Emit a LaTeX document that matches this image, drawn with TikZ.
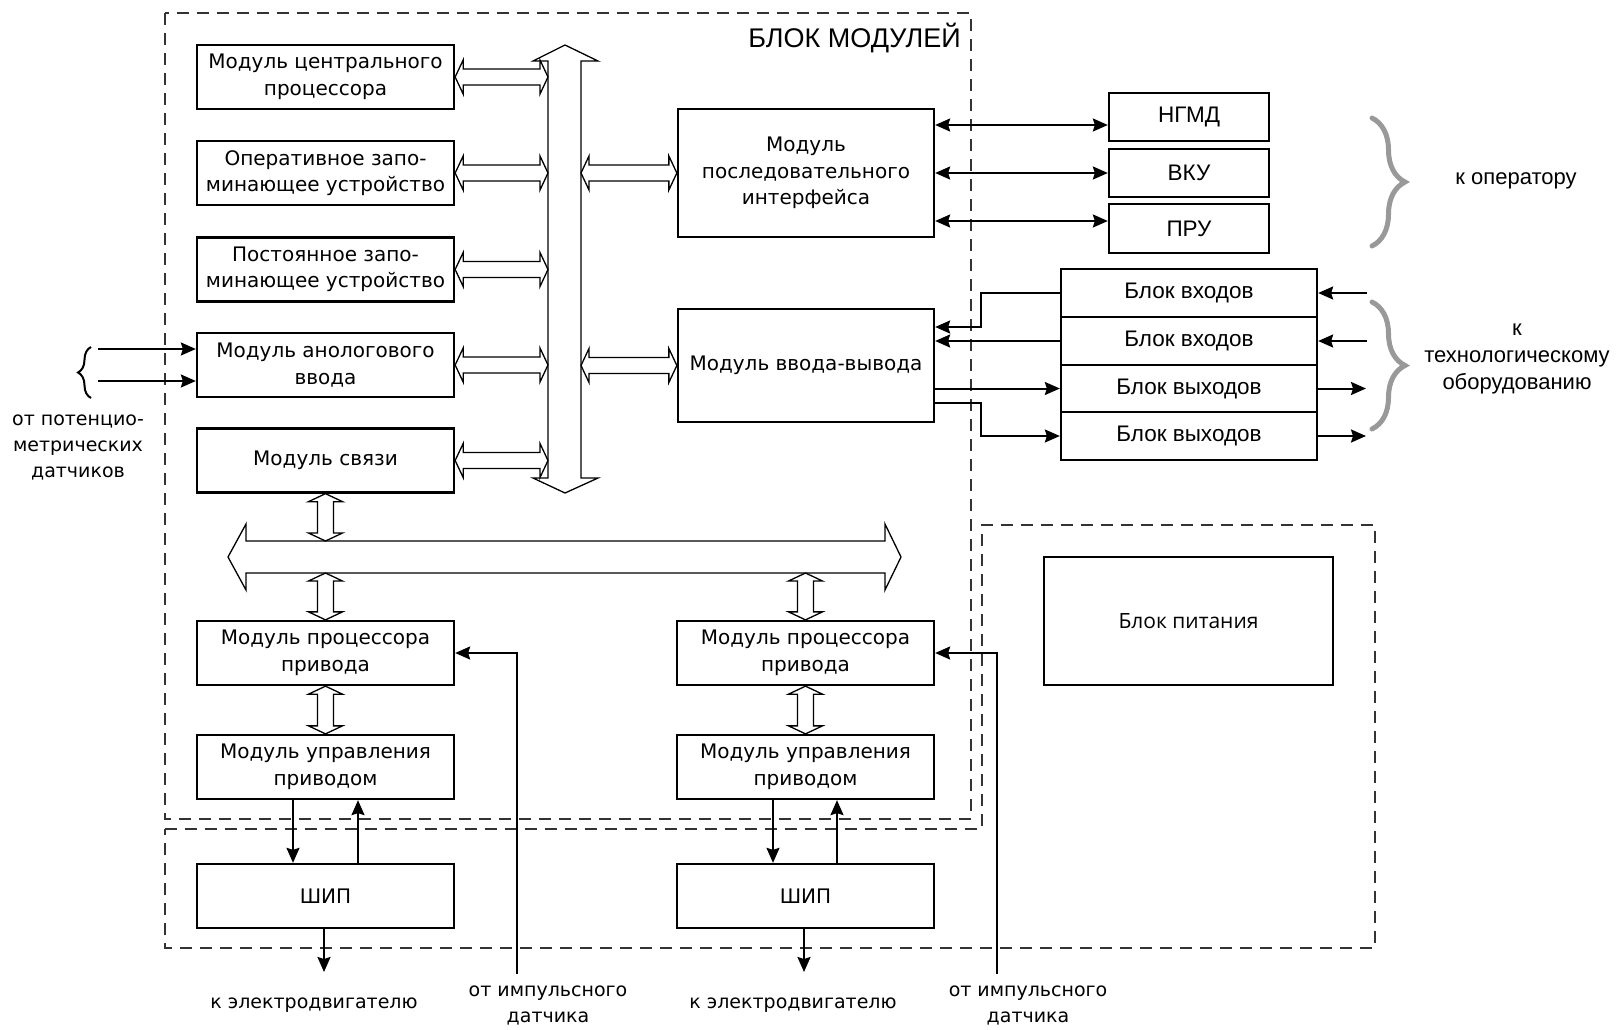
\documentclass[tikz,border=0pt]{standalone}
\usepackage{fontspec}
\setmainfont{DejaVu Sans}
\newfontfamily\libsans{Liberation Sans}
\newfontfamily\opsans{Open Sans}
\usetikzlibrary{arrows.meta,calc,decorations.pathreplacing}

\tikzset{
  box/.style={draw, line width=2.3pt, inner sep=0pt, align=center,
    font=\fontsize{20}{26.5}\selectfont},
  modbox/.style={box, minimum width=257pt, minimum height=64pt},
  rbox/.style={box, font=\libsans\fontsize{22.5}{27}\selectfont},
  lbl/.style={align=center, inner sep=0pt, font=\fontsize{19}{26}\selectfont},
  rlbl/.style={align=center, inner sep=0pt, font=\libsans\fontsize{22}{27}\selectfont},
  hollow/.style={draw, line width=1.3pt, fill=white, line join=miter},
  arr/.style={line width=2pt, -{Stealth[length=15pt,width=13pt,inset=2pt]}},
  darr/.style={line width=2pt, {Stealth[length=15pt,width=13pt,inset=2pt]}-{Stealth[length=15pt,width=13pt,inset=2pt]}},
  dashbox/.style={line width=1.3pt, draw=black!80, dash pattern=on 12pt off 8pt},
  graybrace/.style={draw=black!40, line width=5pt, line cap=round,
    decorate, decoration={brace, amplitude=33pt, aspect=0.5}},
}

% horizontal hollow double arrow: left tip #1, right tip at x of #2
\newcommand\dah[2]{%
  \draw[hollow] let \p1=(#1), \p2=(#2) in
    (\x1,\y1) -- (\x1+8pt,\y1+17pt) -- (\x1+8pt,\y1+8pt) -- (\x2-8pt,\y1+8pt)
    -- (\x2-8pt,\y1+17pt) -- (\x2,\y1) -- (\x2-8pt,\y1-17pt) -- (\x2-8pt,\y1-8pt)
    -- (\x1+8pt,\y1-8pt) -- (\x1+8pt,\y1-17pt) -- cycle;}
% vertical hollow double arrow: top tip #1, bottom tip at y of #2
\newcommand\dav[2]{%
  \draw[hollow] let \p1=(#1), \p2=(#2) in
    (\x1,\y1) -- (\x1+17pt,\y1-8pt) -- (\x1+8pt,\y1-8pt) -- (\x1+8pt,\y2+8pt)
    -- (\x1+17pt,\y2+8pt) -- (\x1,\y2) -- (\x1-17pt,\y2+8pt) -- (\x1-8pt,\y2+8pt)
    -- (\x1-8pt,\y1-8pt) -- (\x1-17pt,\y1-8pt) -- cycle;}

\begin{document}
\begin{tikzpicture}[x=1pt, y=-1pt]
\useasboundingbox (0,0) rectangle (1616,1029);

% dashed enclosures
\draw[dashbox] (165,13) rectangle (971,819);
\draw[dashbox] (165,829) -- (982,829) -- (982,525) -- (1375,525) -- (1375,948) -- (165,948) -- cycle;
\node[anchor=east, inner sep=0pt, font=\libsans\fontsize{27}{30}\selectfont] (title) at (961,38) {БЛОК МОДУЛЕЙ};

% left column modules
\node[modbox] (cpu)  at (325.5,77)   {Модуль центрального\\процессора};
\node[modbox] (ram)  at (325.5,173)  {Оперативное запо-\\минающее устройство};
\node[modbox] (rom)  at (325.5,269.5){Постоянное запо-\\минающее устройство};
\node[modbox] (adc)  at (325.5,365)  {Модуль анологового\\ввода};
\node[modbox] (link) at (325.5,460.5){Модуль связи};

% right modules
\node[box, minimum width=256pt, minimum height=128pt] (ser) at (806,173) {Модуль\\последовательного\\интерфейса};
\node[box, minimum width=256pt, minimum height=113pt] (io)  at (806,365.5) {Модуль ввода-вывода};

% drive chain
\node[modbox] (proc1) at (325.5,653) {Модуль процессора\\привода};
\node[modbox] (ctl1)  at (325.5,767) {Модуль управления\\приводом};
\node[modbox] (ship1) at (325.5,896) {ШИП};
\node[modbox] (proc2) at (805.5,653) {Модуль процессора\\привода};
\node[modbox] (ctl2)  at (805.5,767) {Модуль управления\\приводом};
\node[modbox] (ship2) at (805.5,896) {ШИП};

% peripherals
\node[rbox, minimum width=160pt, minimum height=48pt] (ngmd) at (1189,117)   {НГМД};
\node[rbox, minimum width=160pt, minimum height=48pt] (vku)  at (1189,173)   {ВКУ};
\node[rbox, minimum width=160pt, minimum height=49pt] (pru)  at (1189,228.5) {ПРУ};
\node[rbox, minimum width=256pt, minimum height=48pt] (in1)  at (1189,293)   {Блок входов};
\node[rbox, minimum width=256pt, minimum height=48pt] (in2)  at (1189,341)   {Блок входов};
\node[rbox, minimum width=256pt, minimum height=47pt] (out1) at (1189,388.5) {Блок выходов};
\node[rbox, minimum width=256pt, minimum height=48pt] (out2) at (1189,436)   {Блок выходов};

\node[box, minimum width=289pt, minimum height=128pt, font=\opsans\fontsize{21}{24}\selectfont] (pwr) at (1188.5,621) {Блок питания};

% vertical system bus
\coordinate (busL) at (548,0);
\coordinate (busR) at (581,0);
\draw[hollow] (565,45) -- (598,61) -- (581,61) -- (581,478) -- (598,478) -- (565,493)
  -- (533,478) -- (548,478) -- (548,61) -- (533,61) -- cycle;

% horizontal drive bus
\coordinate (hbT) at (0,541);
\coordinate (hbB) at (0,573);
\draw[hollow] (228,557) -- (246,524) -- (246,541) -- (885,541) -- (885,524) -- (901,557)
  -- (885,590) -- (885,573) -- (246,573) -- (246,590) -- cycle;

% module <-> bus
\dah{cpu.east}{busL}
\dah{ram.east}{busL}
\dah{rom.east}{busL}
\dah{adc.east}{busL}
\dah{link.east}{busL}
\dah{busR |- ser.west}{ser.west}
\dah{busR |- io.west}{io.west}

\dav{link.south}{hbT}
\dav{link.south |- hbB}{proc1.north}
\dav{proc2.north |- hbB}{proc2.north}
\dav{proc1.south}{ctl1.north}
\dav{proc2.south}{ctl2.north}

% serial interface links
\draw[darr] (ser.east |- 0,125) -- (ngmd.west |- 0,125);
\draw[darr] (ser.east |- vku.west) -- (vku.west);
\draw[darr] (ser.east |- 0,221) -- (pru.west |- 0,221);

% I/O links
\draw[arr] (in1.west) -- (981,293) -- (981,327) -- (io.east |- 0,327);
\draw[arr] (in2.west) -- (io.east |- in2.west);
\draw[arr] (io.east |- out1.west) -- (out1.west);
\draw[arr] (io.east |- 0,403) -- (981,403) -- (981,436) -- (out2.west);

\coordinate (inr1) at (1367,293);
\coordinate (inr2) at (1367,341);
\coordinate (outr1) at (1366,388.5);
\coordinate (outr2) at (1366,436);
\draw[arr] (inr1) -- (in1.east);
\draw[arr] (inr2) -- (in2.east);
\draw[arr] (out1.east) -- (outr1);
\draw[arr] (out2.east) -- (outr2);

% braces and right labels
\draw[graybrace] (1372,118) -- (1372,246);
\draw[graybrace] (1372,302) -- (1372,429);
\node[rlbl] (oper) at (1516,181) {к оператору};
\node[rlbl] (tech) at (1517,359) {к\\технологическому\\оборудованию};

% analog inputs
\coordinate (ai1) at (98,349);
\coordinate (ai2) at (98,381);
\draw[arr] (ai1) -- (adc.west |- ai1);
\draw[arr] (ai2) -- (adc.west |- ai2);
\draw[line width=2pt, decorate, decoration={brace, amplitude=13pt, mirror}] (91,347) -- (91,398);
\node[lbl] (pot) at (78,447) {от потенцио-\\метрических\\датчиков};

% drive control wires
\draw[arr] (ctl1.south -| 293,0) -- (ship1.north -| 293,0);
\draw[arr] (ship1.north -| 358,0) -- (ctl1.south -| 358,0);
\draw[arr] (ctl2.south -| 773,0) -- (ship2.north -| 773,0);
\draw[arr] (ship2.north -| 837,0) -- (ctl2.south -| 837,0);

\coordinate (m1) at (324,972);
\coordinate (m2) at (804,972);
\draw[arr] (ship1.south -| m1) -- (m1);
\draw[arr] (ship2.south -| m2) -- (m2);

\coordinate (s1) at (517,974);
\coordinate (s2) at (997,974);
\draw[arr] (s1) -- (517,653) -- (proc1.east);
\draw[arr] (s2) -- (997,653) -- (proc2.east);

\node[lbl] (mot1) at (314,1005) {к электродвигателю};
\node[lbl] (mot2) at (793,1005) {к электродвигателю};
\node[lbl] (sen1) at (548,1005.5) {от импульсного\\датчика};
\node[lbl] (sen2) at (1028,1005.5) {от импульсного\\датчика};
\end{tikzpicture}
\end{document}
